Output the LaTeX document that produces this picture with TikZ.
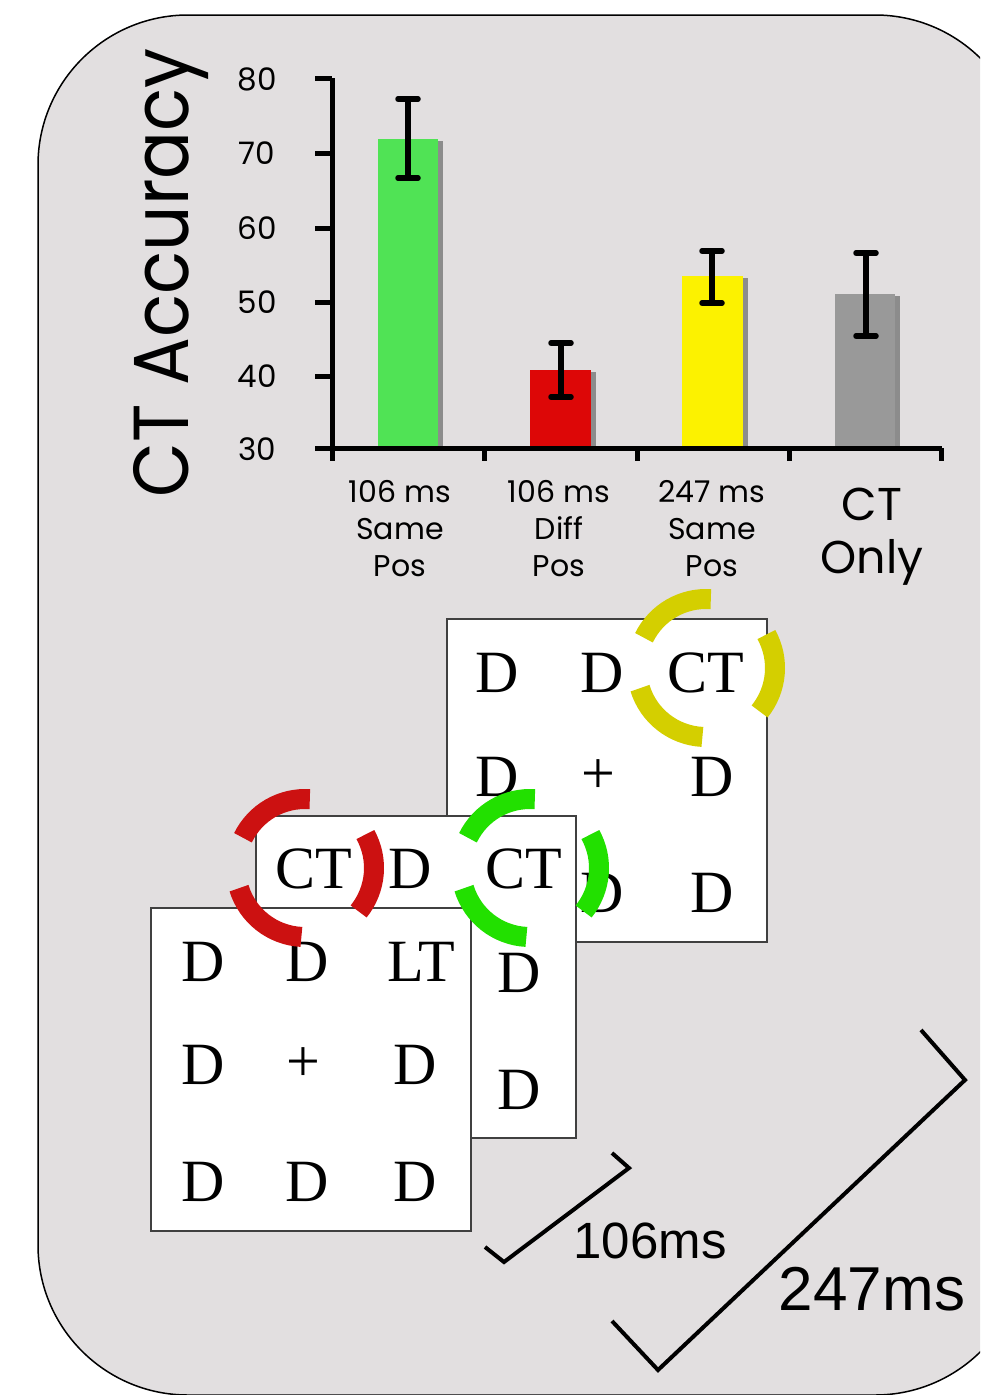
\documentclass[tikz,border=0pt]{standalone}
\usepackage{fontspec}
\newfontfamily\chartfont{Poppins}
\newfontfamily\timefont{Liberation Sans}
\newfontfamily\letterfont{Liberation Serif}
\usepackage{xcolor}
\definecolor{panelgray}{HTML}{E2DFE0}
\definecolor{bargreen}{HTML}{50E355}
\definecolor{barred}{HTML}{DD0707}
\definecolor{baryellow}{HTML}{FCF200}
\definecolor{bargray}{HTML}{999999}
\definecolor{ringyellow}{HTML}{D4CF00}
\definecolor{ringred}{HTML}{CC1111}
\definecolor{ringgreen}{HTML}{22E000}
\tikzset{
	barshadow/.style={fill=black!45},
	axisline/.style={line width=5pt},
	errbar/.style={line width=6.5pt},
	errcap/.style={line width=5.5pt, line cap=round},
	ticklabel/.style={font=\chartfont\fontsize{31}{31}\selectfont, inner sep=0pt},
	catlabel/.style={font=\chartfont\fontsize{30}{37}\selectfont, align=center, anchor=north, inner sep=0pt},
	display/.style={draw=black!75, line width=1.5pt, fill=white, anchor=north west,
			minimum width=320pt, minimum height=323pt, inner sep=0pt},
	item/.style={font=\letterfont\fontsize{60}{60}\selectfont, inner sep=0pt},
	cue/.style={line width=20pt},
	timing/.style={line width=4pt},
	timelabel/.style={font=\timefont\fontsize{#1}{#1}\selectfont, inner sep=0pt}
}
% three dashed pieces of a cue ring round a named point
\newcommand{\cuering}[2]{%
	\draw[cue, #2] (#1) ++(-86:69) arc[start angle=-86, end angle=-154, radius=69];
	\draw[cue, #2] (#1) ++(-197:69) arc[start angle=-197, end angle=-267, radius=69];
	\draw[cue, #2] (#1) ++(39:69) arc[start angle=39, end angle=-29, radius=69];
}

\begin{document}
\begin{tikzpicture}[x=1pt, y=-1pt, line join=miter]

	\clip (0,0) rectangle (980,1395);

	% Draw the grey card
	\draw[fill=panelgray, line width=1.5pt, rounded corners=150pt] (38,15) rectangle (1025,1395);

	% Draw the bars with their shadows
	\fill[barshadow] (383,141) rectangle (443,448);
	\fill[bargreen] (378,139) rectangle (438,448);
	\fill[barshadow] (535,372) rectangle (596,448);
	\fill[barred] (530,370) rectangle (591,448);
	\fill[barshadow] (687,278) rectangle (748,448);
	\fill[baryellow] (682,276) rectangle (743,448);
	\fill[barshadow] (840,296) rectangle (900,448);
	\fill[bargray] (835,294) rectangle (895,448);

	% Draw the axes
	\draw[axisline] (332,78) -- (332,461);
	\draw[axisline] (315,448) -- (942,448);
	\draw[axisline] (315,78) -- (332,78);
	\draw[axisline] (315,153) -- (332,153);
	\draw[axisline] (315,228) -- (332,228);
	\draw[axisline] (315,302) -- (332,302);
	\draw[axisline] (315,376) -- (332,376);
	\draw[axisline] (484,448) -- (484,461);
	\draw[axisline] (637,448) -- (637,461);
	\draw[axisline] (789,448) -- (789,461);
	\draw[axisline] (941,448) -- (941,461);

	% Draw the error bars
	\draw[errbar] (408,99) -- (408,178);
	\draw[errcap] (398,99) -- (418,99);
	\draw[errcap] (398,178) -- (418,178);
	\draw[errbar] (561,343) -- (561,397);
	\draw[errcap] (551,343) -- (571,343);
	\draw[errcap] (551,397) -- (571,397);
	\draw[errbar] (712,251) -- (712,303);
	\draw[errcap] (702,251) -- (722,251);
	\draw[errcap] (702,303) -- (722,303);
	\draw[errbar] (866,253) -- (866,336);
	\draw[errcap] (856,253) -- (876,253);
	\draw[errcap] (856,336) -- (876,336);

	% Axis labels
	\node[rotate=90, anchor=base, inner sep=0pt, font=\chartfont\fontsize{78}{78}\selectfont]
		(accuracy) at (188,273) {\scalebox{0.91}[1]{CT Accuracy}};
	\node[ticklabel] (y80) at (257,79) {80};
	\node[ticklabel] (y70) at (257,153) {70};
	\node[ticklabel] (y60) at (257,228) {60};
	\node[ticklabel] (y50) at (257,302) {50};
	\node[ticklabel] (y40) at (257,376) {40};
	\node[ticklabel] (y30) at (257,449) {30};
	\node[catlabel] (samepos) at (400,480) {106 ms\\Same\\Pos};
	\node[catlabel] (diffpos) at (559,480) {106 ms\\Diff\\Pos};
	\node[catlabel] (latepos) at (712,480) {247 ms\\Same\\Pos};
	\node[catlabel, font=\chartfont\fontsize{46}{53}\selectfont] (ctonly) at (872,488) {CT\\Only};

	% Draw the three displays, back to front
	\node[display] (late) at (446,618) {};
	\node[item] (late11) at (497,673) {D};
	\node[item] (late12) at (602,673) {D};
	\node[item] (late13) at (706,673) {CT};
	\node[item] (late21) at (497,777) {D};
	\node[item] (late22) at (598,777) {+};
	\node[item] (late23) at (712,777) {D};
	\node[item] (late32) at (602,893) {D};
	\node[item] (late33) at (712,893) {D};

	\node[display, minimum height=322pt] (mid) at (255,815) {};
	\node[item] (mid11) at (314,869) {CT};
	\node[item] (mid12) at (410,869) {D};
	\node[item] (mid13) at (524,869) {CT};
	\node[item] (mid23) at (519,973) {D};
	\node[item] (mid33) at (519,1090) {D};

	\node[display] (early) at (150,907) {};
	\node[item] (early11) at (203,962) {D};
	\node[item] (early12) at (307,962) {D};
	\node[item] (early13) at (421,962) {LT};
	\node[item] (early21) at (203,1065) {D};
	\node[item] (early22) at (303,1065) {+};
	\node[item] (early23) at (415,1065) {D};
	\node[item] (early31) at (203,1182) {D};
	\node[item] (early32) at (307,1182) {D};
	\node[item] (early33) at (415,1182) {D};

	% Draw the cue rings
	\coordinate (cueyellow) at (706,668);
	\coordinate (cuered) at (305,868);
	\coordinate (cuegreen) at (530,868);
	\cuering{cueyellow}{ringyellow}
	\cuering{cuered}{ringred}
	\cuering{cuegreen}{ringgreen}

	% Draw the timing marks
	\draw[timing] (485,1247) -- (504,1262) -- (629,1168) -- (612,1153);
	\node[timelabel=51] (short) at (650,1241) {106ms};
	\draw[timing] (612,1321) -- (658,1370) -- (965,1080) -- (921,1030);
	\node[timelabel=62] (long) at (872,1289) {247ms};

\end{tikzpicture}
\end{document}
